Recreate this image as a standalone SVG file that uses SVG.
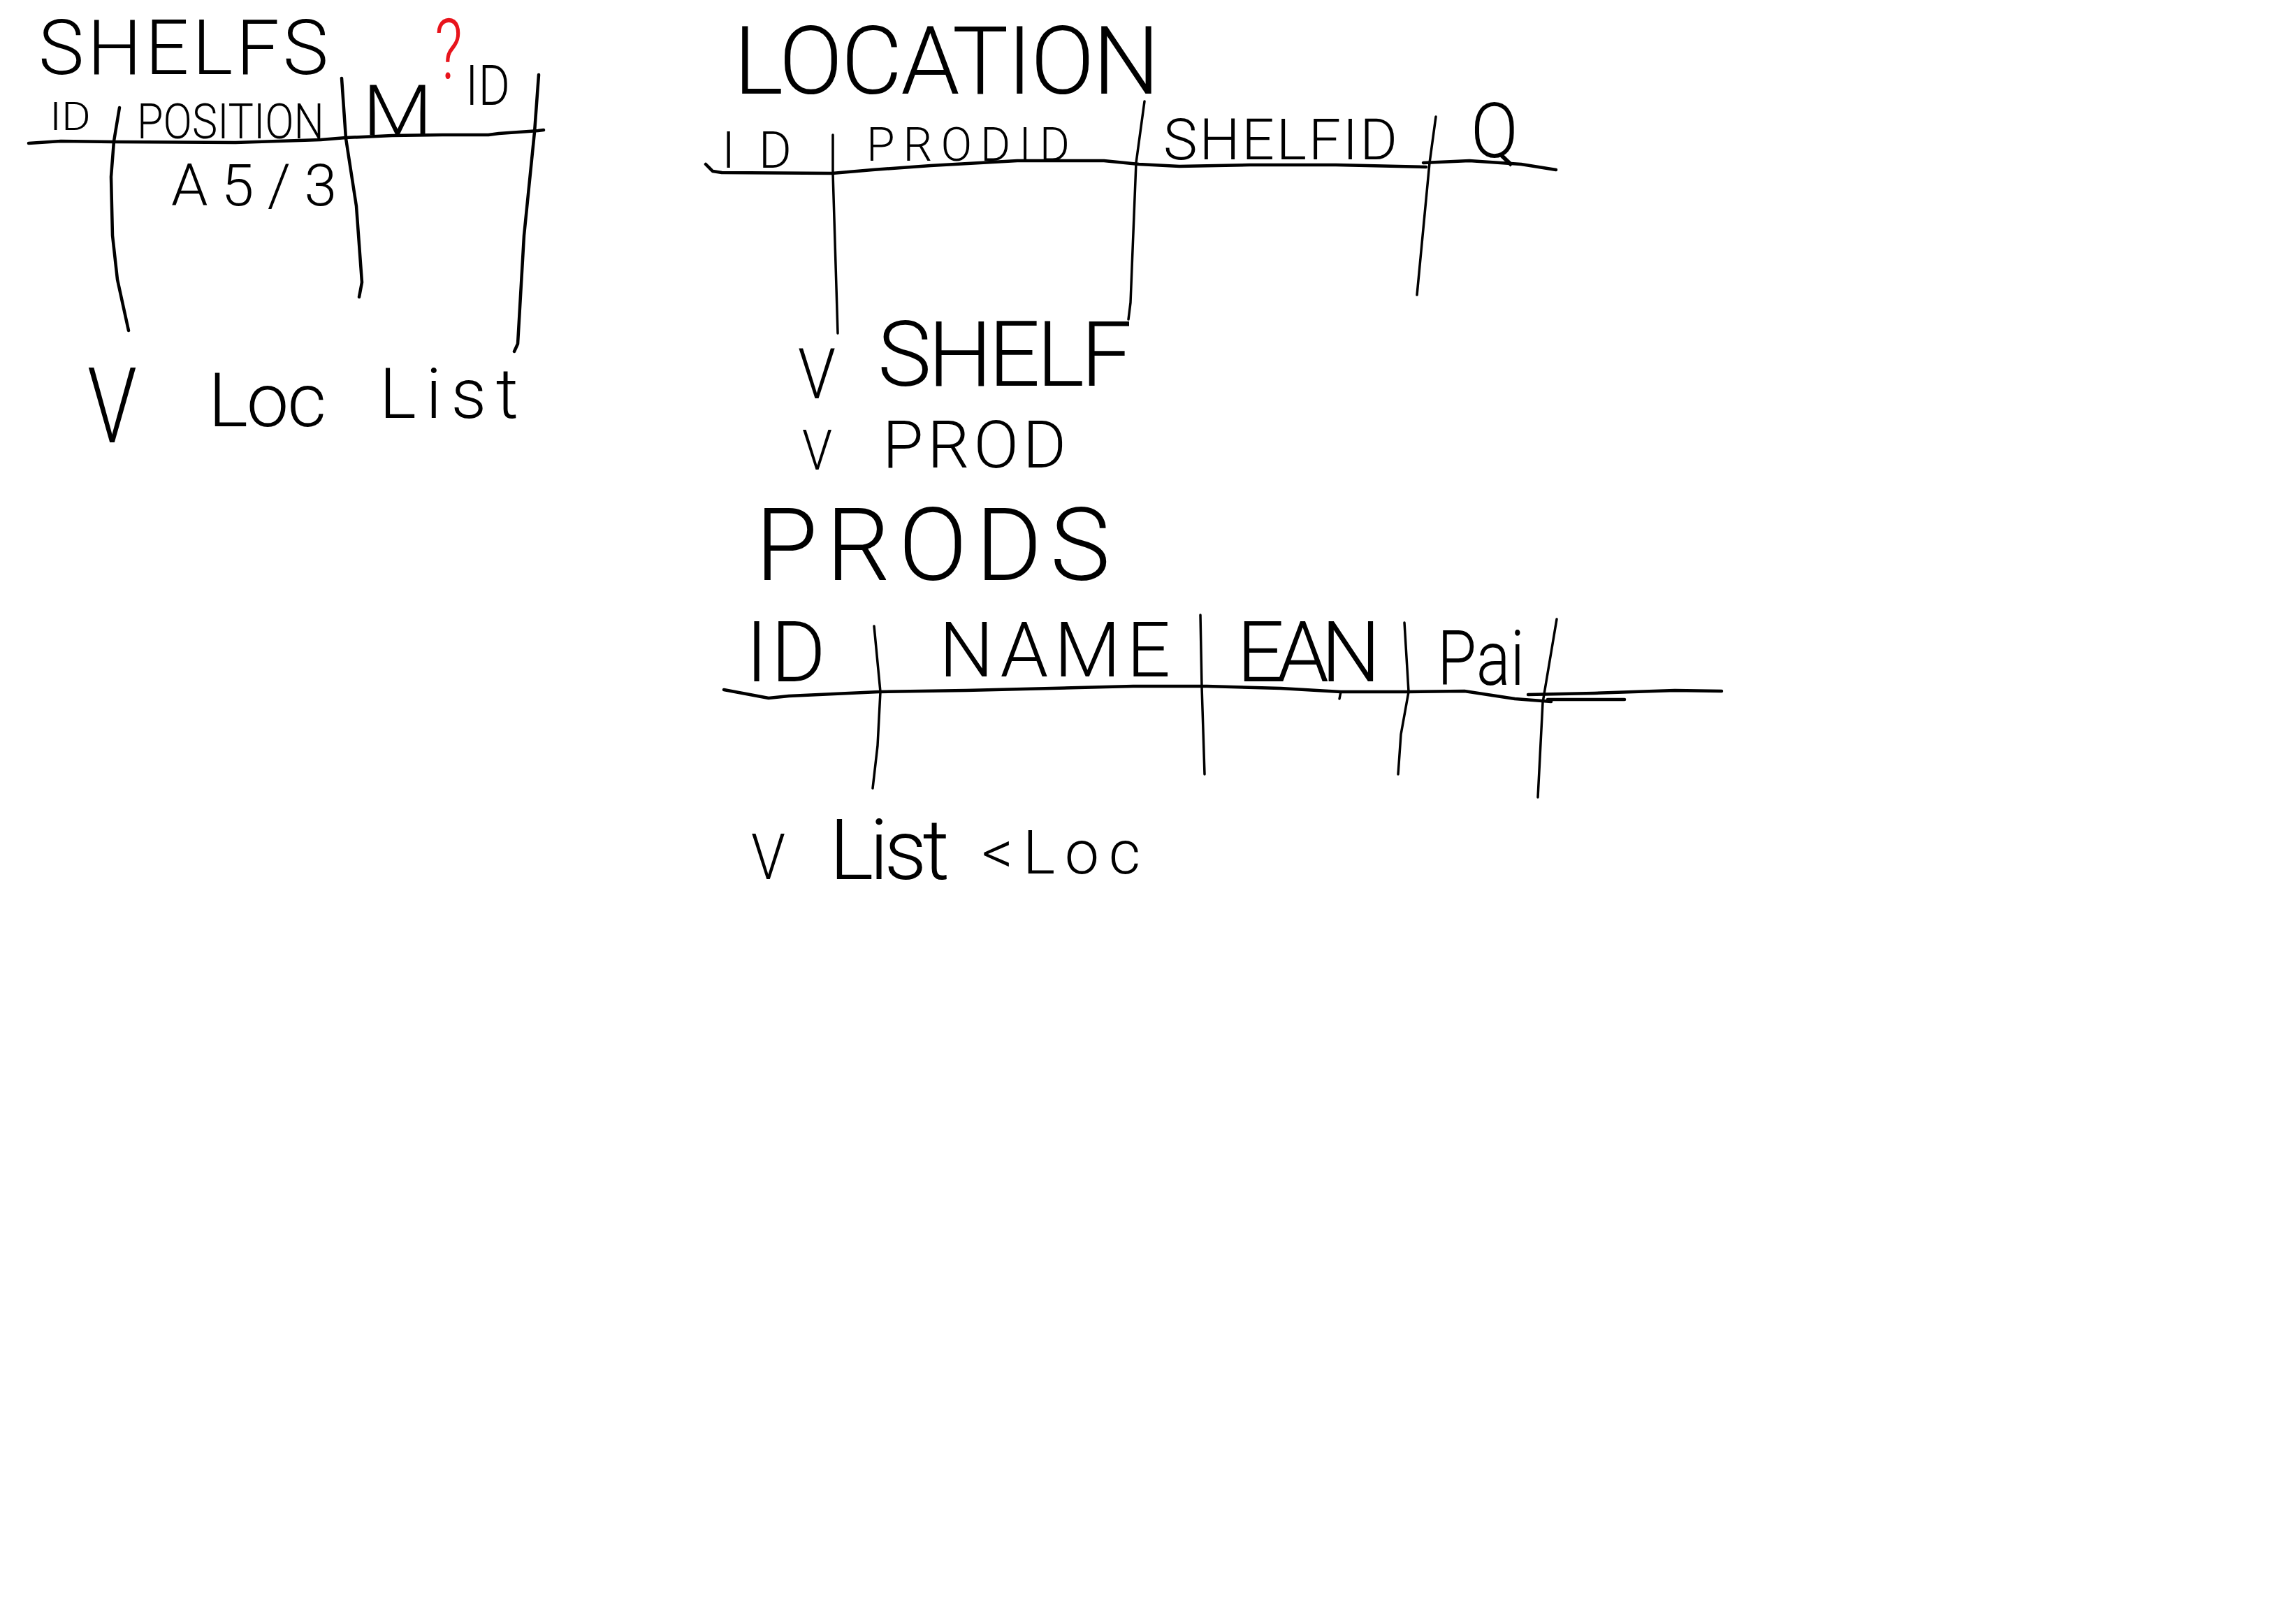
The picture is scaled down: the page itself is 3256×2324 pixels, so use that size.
<svg xmlns="http://www.w3.org/2000/svg" width="3256" height="2324" viewBox="0 0 3256 2324">
<style>
  .t { font-family: "Roboto", "Liberation Sans", sans-serif; font-weight: 300; fill: #000; }
  .red { fill: #e8141c; }
  .ln { fill: none; stroke: #000; stroke-width: 4.5; stroke-linecap: round; stroke-linejoin: round; }
  .thin { stroke-width: 3.5; }
</style>
<rect width="3256" height="2324" fill="#fff"/>

<g id="shelfs">
  <text class="t" x="55" y="106" font-size="110" textLength="415" lengthAdjust="spacing">SHELFS</text>
  <text class="t red" x="622" y="112" font-size="120" textLength="40" lengthAdjust="spacingAndGlyphs">?</text>
  <text class="t" x="71" y="186" font-size="56" textLength="59" lengthAdjust="spacingAndGlyphs">ID</text>
  <text class="t" x="196" y="198" font-size="70" textLength="268" lengthAdjust="spacingAndGlyphs">POSITION</text>
  <text class="t" x="519" y="193" font-size="100" textLength="100" lengthAdjust="spacingAndGlyphs">M</text>
  <text class="t" x="666" y="150" font-size="80" textLength="64" lengthAdjust="spacingAndGlyphs">ID</text>
  <text class="t" x="245" y="294" font-size="84" textLength="237" lengthAdjust="spacing">A5/3</text>
  <text class="t" x="125" y="633" font-size="150" textLength="71" lengthAdjust="spacingAndGlyphs">V</text>
  <text class="t" x="298" y="610" font-size="108" textLength="169" lengthAdjust="spacing">Loc</text>
  <text class="t" x="543" y="598" font-size="100" textLength="199" lengthAdjust="spacing">List</text>
</g>

<g id="location">
  <text class="t" x="1050" y="134" font-size="135" textLength="610" lengthAdjust="spacing">LOCATION</text>
  <text class="t" x="1033" y="240" font-size="72" textLength="100" lengthAdjust="spacing">ID</text>
  <text class="t" x="1240" y="230" font-size="66" textLength="291" lengthAdjust="spacing">PRODID</text>
  <text class="t" x="1665" y="228" font-size="82" textLength="335" lengthAdjust="spacing">SHELFID</text>
  <text class="t" x="2105" y="225" font-size="110" textLength="68" lengthAdjust="spacingAndGlyphs">Q</text>
  <text class="t" x="1142" y="570" font-size="100" textLength="54" lengthAdjust="spacingAndGlyphs">V</text>
  <text class="t" x="1256" y="552" font-size="130" textLength="364" lengthAdjust="spacing">SHELF</text>
  <text class="t" x="1148" y="672" font-size="80" textLength="43" lengthAdjust="spacingAndGlyphs">V</text>
  <text class="t" x="1263" y="669" font-size="95" textLength="263" lengthAdjust="spacing">PROD</text>
</g>

<g id="prods">
  <text class="t" x="1081" y="830" font-size="145" textLength="508" lengthAdjust="spacing">PRODS</text>
  <text class="t" x="1067" y="975" font-size="120" textLength="115" lengthAdjust="spacing">ID</text>
  <text class="t" x="1344" y="968" font-size="110" textLength="331" lengthAdjust="spacing">NAME</text>
  <text class="t" x="1770" y="975" font-size="120" textLength="206" lengthAdjust="spacing">EAN</text>
  <text class="t" x="2057" y="980" font-size="110" textLength="125" lengthAdjust="spacingAndGlyphs">Pai</text>
  <text class="t" x="1075" y="1258" font-size="90" textLength="49" lengthAdjust="spacingAndGlyphs">V</text>
  <text class="t" x="1187" y="1258" font-size="120" textLength="172" lengthAdjust="spacing">List</text>
  <text class="t" x="1405" y="1250" font-size="88" textLength="227" lengthAdjust="spacing">&lt;Loc</text>
</g>

<g id="connectors">
  <!-- SHELFS table -->
  <polyline class="ln" points="41,205 87,202 163,203 337,204 459,200 495,197 561,194 633,193 699,193 714,191 770,187 778,186"/>
  <polyline class="ln" points="171,154 163,202 159,253 161,337 168,400 184,473"/>
  <polyline class="ln" points="489,112 495,198 510,295 518,404 514,425"/>
  <polyline class="ln" points="771,107 765,189 750,337 741,492 736,503"/>
  <!-- LOCATION table -->
  <polyline class="ln" points="1010,235 1020,245 1033,247 1191,248 1249,243 1332,237 1456,230 1580,230 1630,235 1688,238 1788,236 1912,236 2041,239"/>
  <polyline class="ln" points="2037,233 2103,230 2177,235 2227,243"/>
  <polyline class="ln thin" points="1192,193 1192,248 1199,477"/>
  <polyline class="ln thin" points="1638,145 1626,233 1618,433 1615,457"/>
  <polyline class="ln thin" points="2055,167 2046,233 2028,422"/>
  <!-- PRODS table -->
  <polyline class="ln" points="1036,987 1100,999 1129,996 1258,990 1383,988 1622,982 1727,982 1833,985 1919,990 2014,990 2096,989 2168,1000 2220,1004"/>
  <polyline class="ln" points="2187,994 2282,992 2397,988 2464,989"/>
  <polyline class="ln" points="2215,1001 2325,1001"/>
  <polyline class="ln thin" points="1919,990 1917,1000"/>
  <polyline class="ln thin" points="1251,896 1260,990 1256,1067 1249,1128"/>
  <polyline class="ln thin" points="1718,880 1720,983 1724,1108"/>
  <polyline class="ln thin" points="2010,891 2016,990 2005,1051 2001,1108"/>
  <polyline class="ln thin" points="2228,886 2208,1005 2201,1141"/>
</g>
</svg>
